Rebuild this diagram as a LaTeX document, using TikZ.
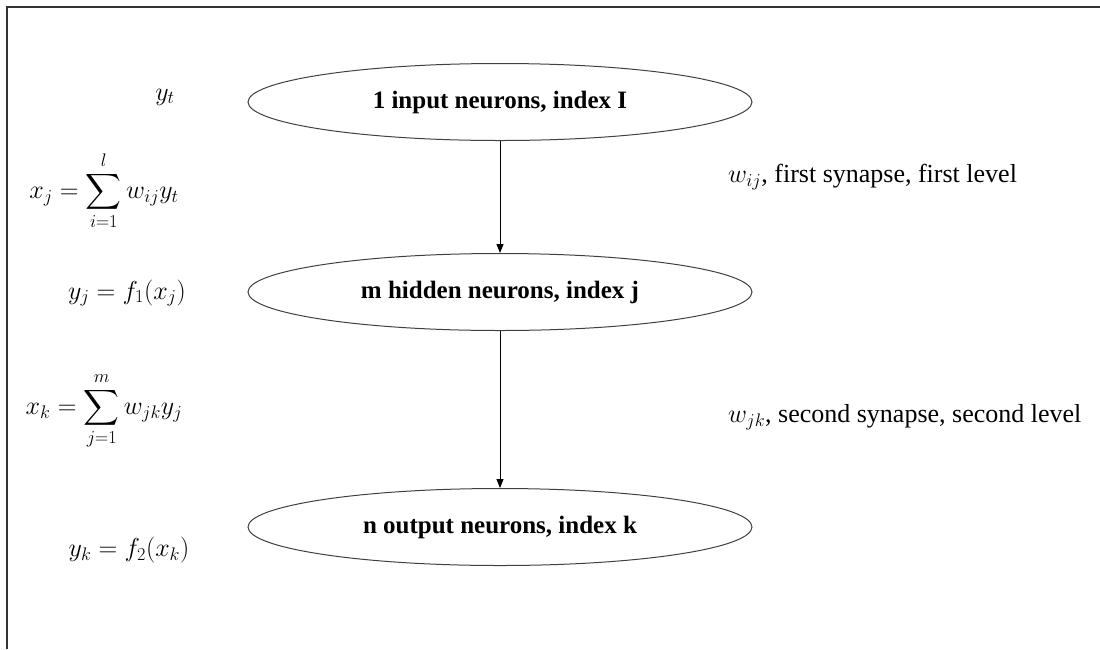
\documentclass[tikz,border=0pt]{standalone}
\usepackage{fix-cm}
\usepackage{amsmath}
\usepackage{fontspec}
\setmainfont{Liberation Serif}
\usetikzlibrary{arrows.meta,shapes.geometric}
\begin{document}
\begin{tikzpicture}[x=1pt,y=-1pt,
  layerbox/.style={ellipse, draw=black!75, line width=1pt, minimum width=504pt,
    minimum height=77pt, inner sep=0pt, font=\fontsize{25}{30}\selectfont\bfseries},
  eqn/.style={font=\fontsize{26}{31}\selectfont, inner sep=0pt},
  synlabel/.style={anchor=west, font=\fontsize{26}{31}\selectfont, inner sep=0pt},
  flow/.style={draw=black, line width=0.9pt, -{Triangle[length=9pt,width=7pt]}}]
  % page area and the two frame edges
  \useasboundingbox (0,0) rectangle (1100,649);
  \draw[line width=2pt, black!80] (7,649) -- (7,7) -- (1100,7);

  % the three neuron layers
  \node[layerbox] (input)  at (500,102) {1 input neurons, index I};
  \node[layerbox] (hidden) at (500,292) {m hidden neurons, index j};
  \node[layerbox] (output) at (500,527) {n output neurons, index k};

  \draw[flow] (input.south) -- (hidden.north);
  \draw[flow] (hidden.south) -- (output.north);

  % layer equations
  \node[eqn] (yt) at (165,97) {$y_t$};
  \node[eqn] (xj) at (104,191) {$x_j=\displaystyle\sum_{i=1}^{l} w_{ij}y_t$};
  \node[eqn] (yj) at (127,293) {$y_j=f_1(x_j)$};
  \node[eqn] (xk) at (104,411) {$x_k=\displaystyle\sum_{j=1}^{m} w_{jk}y_j$};
  \node[eqn] (yk) at (129,550) {$y_k=f_2(x_k)$};

  % synapse labels
  \node[synlabel] (syn1) at (728,177) {$w_{ij}$, first synapse, first level};
  \node[synlabel] (syn2) at (728,417) {$w_{jk}$, second synapse, second level};
\end{tikzpicture}
\end{document}
